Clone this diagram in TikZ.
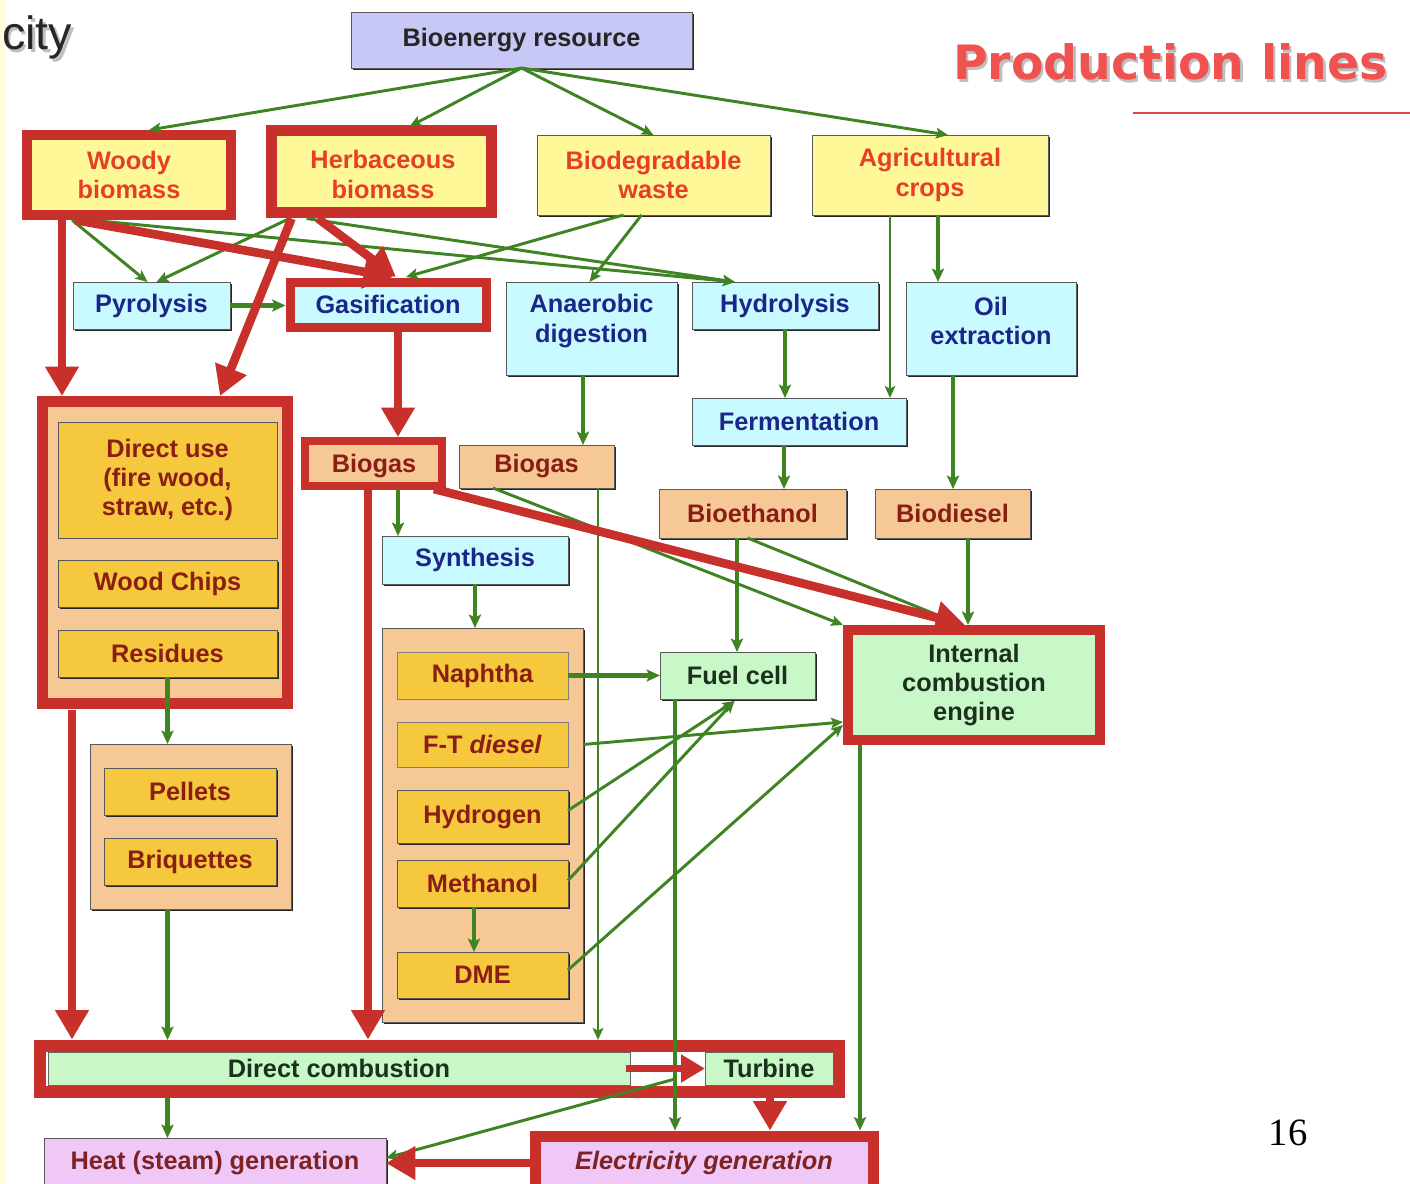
\documentclass[tikz,border=0pt]{standalone}
\usepackage{fontspec}
\setmainfont{Liberation Sans}
\newfontfamily\titlefont{DejaVu Sans}
\newfontfamily\numfont{Liberation Serif}
\usetikzlibrary{arrows.meta,calc,shadows}

\definecolor{redframe}{RGB}{200,48,44}
\definecolor{titlered}{RGB}{240,82,80}
\definecolor{garrow}{RGB}{62,132,34}
\definecolor{srcyellow}{RGB}{255,248,152}
\definecolor{procyan}{RGB}{200,250,255}
\definecolor{reslav}{RGB}{200,200,246}
\definecolor{peach}{RGB}{246,200,150}
\definecolor{fuelgold}{RGB}{245,200,62}
\definecolor{usegreen}{RGB}{200,248,200}
\definecolor{outpink}{RGB}{240,200,248}
\definecolor{srctxt}{RGB}{230,62,40}
\definecolor{proctxt}{RGB}{28,38,138}
\definecolor{prodtxt}{RGB}{138,30,20}
\definecolor{usetxt}{RGB}{28,48,28}
\definecolor{outtxt}{RGB}{125,35,35}
\definecolor{sidestrip}{RGB}{255,253,222}

\newcommand\lblfont{\fontsize{19}{22}\selectfont\bfseries}

\tikzset{
  px/.style 2 args={minimum width=#1*0.75pt, minimum height=#2*0.75pt},
  lbl/.style={inner sep=0pt, outer sep=0pt, align=center, font=\lblfont},
  edged/.style={draw=black!65, line width=0.6pt},
  boxshadow/.style={drop shadow={shadow xshift=1.6pt, shadow yshift=-1.6pt, opacity=1, fill=black!85}},
  rframe/.style={draw=redframe, line width=7.5pt},
  srcbox/.style={lbl, fill=srcyellow, text=srctxt},
  procbox/.style={lbl, fill=procyan, text=proctxt},
  prodbox/.style={lbl, fill=peach, text=prodtxt},
  fuelbox/.style={lbl, fill=fuelgold, text=prodtxt},
  usebox/.style={lbl, fill=usegreen, text=usetxt},
  outbox/.style={lbl, fill=outpink, text=outtxt},
  grpbox/.style={lbl, fill=peach},
  garr/.style={draw=garrow, line width=2.2pt, -{Stealth[length=9pt, width=8pt, inset=2pt]}},
  garrw/.style={garr, line width=3.5pt, -{Stealth[length=10pt, width=9pt, inset=2pt]}},
  rarr/.style={draw=redframe, line width=6.5pt, -{Triangle[length=22pt, width=24pt]}},
}

\begin{document}
\begin{tikzpicture}[x=0.75pt, y=-0.75pt]
\useasboundingbox (0,0) rectangle (1410,1184);
\fill[white] (0,0) rectangle (1410,1184);
\fill[sidestrip] (0,0) rectangle (6,1184);

% page heading fragment, title and page number
\node[anchor=base west, inner sep=0pt, font=\fontsize{35}{40}\selectfont, text=black!25] (headshadow) at (4.5,52.5) {city};
\node[anchor=base west, inner sep=0pt, font=\fontsize{35}{40}\selectfont, text=black!85] (pagehead) at (2,50) {city};
\node[anchor=base west, inner sep=0pt, font=\titlefont\fontsize{35.5}{40}\selectfont\bfseries, text=black!25] (titleshadow) at (955.5,82.5) {Production lines};
\node[anchor=base west, inner sep=0pt, font=\titlefont\fontsize{35.5}{40}\selectfont\bfseries, text=titlered] (title) at (953,80) {Production lines};
\coordinate (rule-a) at (1133,113);
\coordinate (rule-b) at (1410,113);
\draw[titlered!90!black, line width=1.5pt] (rule-a) -- (rule-b);
\node[inner sep=0pt, font=\numfont\fontsize{29}{32}\selectfont] (pageno) at (1288,1133) {16};

% resource and feedstocks
\node[lbl, fill=reslav, text=black!85, edged, boxshadow, px={341}{56}] (res) at (521.5,40) {Bioenergy resource};
\node[srcbox, rframe, px={204}{80}] (woody) at (129,175) {Woody\\biomass};
\node[srcbox, rframe, line width=8.5pt, px={220}{82}] (herb) at (381.5,171.5) {};
\node[srcbox] (herb-text) at (383,174.5) {Herbaceous\\biomass};
\node[srcbox, edged, boxshadow, px={233}{80}] (biodeg) at (653.5,175) {Biodegradable\\waste};
\node[srcbox, edged, boxshadow, px={236}{80}] (agri) at (930,175) {Agricultural\\crops};

% conversion processes
\node[procbox, edged, boxshadow, px={157}{47}] (pyro) at (151.5,305.5) {Pyrolysis};
\node[procbox, rframe, line width=6.75pt, px={196}{45}] (gasi) at (388,304.5) {Gasification};
\node[procbox, edged, boxshadow, px={171}{93}] (anaer) at (591.5,328.5) {};
\node[procbox] (anaer-text) at (591.5,321) {Anaerobic\\digestion};
\node[procbox, edged, boxshadow, px={186}{47}] (hydro) at (785,305.5) {Hydrolysis};
\node[procbox, edged, boxshadow, px={170}{93}] (oil) at (991,328.5) {};
\node[procbox] (oil-text) at (991,321) {Oil\\extraction};
\node[procbox, edged, boxshadow, px={214}{47}] (ferm) at (799,421.5) {Fermentation};

% solid biofuels
\node[grpbox, rframe, line width=8.25pt, px={245}{302}] (direct) at (165,552.5) {};
\node[fuelbox, edged, px={219}{116}] (use) at (167.5,480) {Direct use\\(fire wood,\\straw, etc.)};
\node[fuelbox, edged, boxshadow, px={219}{47}] (chips) at (167.5,583.5) {Wood Chips};
\node[fuelbox, edged, boxshadow, px={219}{47}] (resid) at (167.5,653.5) {Residues};
\node[grpbox, edged, boxshadow, px={201}{165}] (densified) at (190.5,826.5) {};
\node[fuelbox, edged, boxshadow, px={172}{47}] (pellets) at (190,791.5) {Pellets};
\node[fuelbox, edged, boxshadow, px={172}{47}] (briq) at (190,861.5) {Briquettes};

% gaseous and liquid biofuels
\node[prodbox, rframe, line width=6.5pt, px={137}{45}] (gasbio) at (373.5,463.5) {};
\node[prodbox] (gasbio-text) at (374,466.5) {Biogas};
\node[prodbox, edged, boxshadow, px={155}{43}] (digbio) at (536.5,466.5) {Biogas};
\node[prodbox, edged, boxshadow, px={187}{49}] (bioeth) at (752.5,513.5) {Bioethanol};
\node[prodbox, edged, boxshadow, px={155}{49}] (biodies) at (952.5,513.5) {Biodiesel};
\node[procbox, edged, boxshadow, px={186}{48}] (synth) at (475,560) {Synthesis};
\node[grpbox, edged, boxshadow, px={201}{394}] (synfuels) at (482.5,825) {};
\node[fuelbox, draw=black!50, line width=0.6pt, px={171}{47}] (naph) at (482.5,675.5) {Naphtha};
\node[fuelbox, draw=black!50, line width=0.6pt, px={171}{45}] (ftd) at (482.5,744.5) {F-T \textit{diesel}};
\node[fuelbox, edged, boxshadow, px={171}{53}] (hyd) at (482.5,816.5) {Hydrogen};
\node[fuelbox, edged, boxshadow, px={171}{47}] (meth) at (482.5,883.5) {Methanol};
\node[fuelbox, edged, boxshadow, px={171}{46}] (dme) at (482.5,975) {DME};

% conversion devices
\node[usebox, edged, boxshadow, px={155}{47}] (fc) at (737.5,675.5) {Fuel cell};
\node[usebox, rframe, px={252}{110}] (ice) at (974,685) {Internal\\combustion\\engine};
\node[lbl, fill=white, draw=redframe, line width=9pt, px={799}{46}] (dcf) at (439.5,1069) {};
\node[usebox, draw=black!60, line width=0.6pt, px={582}{33}] (dcomb) at (339,1068.5) {Direct combustion};
\node[usebox, draw=black!60, line width=0.6pt, px={128}{33}] (turb) at (769,1068.5) {Turbine};

% final energy
\node[outbox, edged, boxshadow, px={342}{50}] (heat) at (215,1163) {Heat (steam) generation};
\node[outbox, rframe, line width=8.25pt, px={338}{54}, font=\lblfont\itshape] (elec) at (704,1163) {Electricity generation};

% green routes
\draw[garr] (res.south) -- ($(woody.north)+(20,-5)$);
\draw[garr] (res.south) -- ($(herb.north)+(28,-4)$);
\draw[garr] (res.south) -- (biodeg.north);
\draw[garr] (res.south) -- ($(agri.north)+(18,0)$);
\draw[garr] ($(woody.south)+(-57,5)$) -- ($(pyro.north)+(-4,0)$);
\draw[garr] ($(herb.south)+(-92,6)$) -- ($(pyro.north)+(5,0)$);
\draw[garr] ($(woody.south)+(-40,5)$) -- ($(hydro.north)+(-50,0)$);
\draw[garr] ($(herb.south)+(-75,6)$) -- ($(hydro.north)+(-50,0)$);
\draw[garr] ($(biodeg.south)+(-30,0)$) -- ($(gasi.north)+(18,-5)$);
\draw[garr] ($(biodeg.south)+(-12,0)$) -- ($(anaer.north)+(-2,0)$);
\draw[garr] ($(agri.south)+(-40,0)$) -- ($(ferm.north)+(91,0)$);
\draw[garrw] ($(agri.south)+(8,0)$) -- ($(oil.north)+(-53,0)$);
\draw[garrw] (pyro.east) -- ($(gasi.west)+(-4.5,1)$);
\draw[garrw] ($(anaer.south)+(-8.5,0)$) -- ($(digbio.north)+(46.5,0)$);
\draw[garrw] (hydro.south) -- ($(ferm.north)+(-14,0)$);
\draw[garrw] ($(ferm.south)+(-15,0)$) -- ($(bioeth.north)+(31.5,0)$);
\draw[garrw] ($(oil.south)+(-38,0)$) -- ($(biodies.north)+(0.5,0)$);
\draw[garrw] ($(gasbio.south)+(24.5,3.5)$) -- ($(synth.north)+(-77,0)$);
\draw[garr] ($(digbio.south west)+(34,0)$) -- ($(ice.north west)+(-5,-5)$);
\draw[garr] ($(digbio.south east)+(-16,0)$) -- ($(dcf.north)+(158.5,-6)$);
\draw[garrw] ($(bioeth.south)+(-15.5,0)$) -- ($(fc.north)+(-0.5,0)$);
\draw[garr] ($(bioeth.south)+(-5,0)$) -- ($(ice.north)+(-12,-5)$);
\draw[garrw] ($(biodies.south)+(15.5,0)$) -- ($(ice.north)+(-6,-5)$);
\draw[garrw] (synth.south) -- ($(synfuels.north)+(-7.5,0)$);
\draw[garrw] ($(meth.south)+(-8.5,0)$) -- ($(dme.north)+(-8.5,0)$);
\draw[garrw, line width=4.2pt] (naph.east) -- (fc.west);
\draw[garr] ($(ftd.east)+(15,0)$) -- ($(ice.west)+(-5,37)$);
\draw[garr] ($(hyd.east)+(0,-6)$) -- ($(fc.south)+(-3,2)$);
\draw[garr] ($(meth.east)+(0,-3)$) -- ($(fc.south)+(-3,2)$);
\draw[garr] ($(dme.east)+(0,-5)$) -- ($(ice.west)+(-5,40)$);
\draw[garrw] ($(fc.south)+(-62.5,0)$) -- ($(elec.north)+(-29,-5.5)$);
\draw[garrw] ($(ice.south)+(-114,5)$) -- ($(elec.north)+(156,-5.5)$);
\draw[garrw] (resid.south) -- ($(densified.north)+(-23,0)$);
\draw[garrw] ($(densified.south)+(-23,0)$) -- ($(dcf.north)+(-272,-6)$);
\draw[garrw] ($(dcf.south)+(-272,6)$) -- ($(heat.north)+(-47.5,0)$);
\coordinate (fcchp) at ($(fc.south)+(-62.5,380)$);
\draw[garr] (fcchp) -- ($(heat.east)+(0,-5)$);

% red main routes
\draw[rarr] ($(woody.south)+(-67,5)$) -- ($(direct.north)+(-103,-5.5)$);
\draw[rarr] ($(herb.south)+(-90,6)$) -- ($(direct.north)+(55,-5.5)$);
\draw[rarr] ($(woody.south)+(-54,5)$) -- ($(gasi.north)+(5,-5)$);
\draw[rarr] ($(herb.south)+(-63.5,6)$) -- ($(gasi.north)+(8,-5)$);
\draw[rarr] ($(gasi.south)+(10,5)$) -- ($(gasbio.north)+(24.5,-4)$);
\draw[rarr] ($(gasbio.south east)+(-8,3)$) -- ($(ice.north)+(-9,-5)$);
\draw[rarr] ($(gasbio.south)+(-5.5,3)$) -- ($(dcf.north)+(-71.5,-6.5)$);
\draw[rarr] ($(direct.south)+(-93,6)$) -- ($(dcf.north)+(-367.5,-6.5)$);
\draw[rarr, line width=5.5pt, -{Triangle[length=18pt, width=20pt]}] ($(dcomb.east)+(-4,0)$) -- (turb.west);
\draw[rarr] ($(dcf.south)+(330.5,4)$) -- ($(elec.north)+(66,-5.5)$);
\draw[rarr] ($(elec.west)+(-5.5,0)$) -- (heat.east);
\end{tikzpicture}
\end{document}
